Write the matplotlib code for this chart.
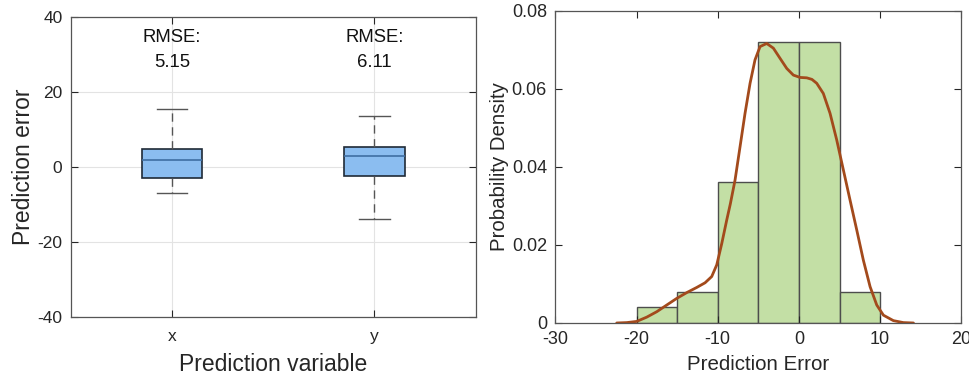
import matplotlib.pyplot as plt
from matplotlib.ticker import FuncFormatter

plt.rcParams["font.family"] = ["Liberation Sans", "DejaVu Sans"]
plt.rcParams["axes.unicode_minus"] = False

# left panel: box plot summary of prediction errors
variables = ["x", "y"]
rmse = [5.15, 6.11]
q1 = [-2.9, -2.4]
medians = [1.8, 2.9]
q3 = [4.9, 5.4]
whisker_low = [-7.0, -13.8]
whisker_high = [15.4, 13.6]

# right panel: histogram of prediction errors + density curve
bin_edges = [-20, -15, -10, -5, 0, 5, 10]
densities = [0.004, 0.008, 0.036, 0.072, 0.072, 0.008]
kde_x = [-22.44, -21.2, -19.98, -18.74, -17.5, -16.28, -15.05, -13.8, -12.59,
         -11.56, -10.74, -10.12, -9.5, -8.89, -8.45, -7.87, -7.25, -6.64, -6.02,
         -5.41, -4.79, -3.97, -3.15, -2.33, -1.5, -0.69, 0.14, 0.96, 1.6, 2.19,
         3.0, 3.83, 4.65, 5.47, 6.29, 7.12, 7.93, 8.76, 9.58, 10.4, 11.63, 12.86, 14.1]
kde_y = [0.0, 0.0001, 0.0004, 0.0015, 0.0029, 0.0046, 0.0063, 0.0078, 0.0091,
         0.0103, 0.0119, 0.0149, 0.0204, 0.0264, 0.0305, 0.0366, 0.0452, 0.0537, 0.0614,
         0.0674, 0.0708, 0.0716, 0.0704, 0.0678, 0.0652, 0.0635, 0.0629, 0.0628, 0.0624, 0.0614,
         0.0588, 0.0537, 0.0469, 0.0392, 0.0315, 0.0238, 0.0161, 0.0093, 0.0046, 0.002,
         0.0006, 0.0001, 0.0]

AXIS_COLOR = "#262626"


def style_axes(ax):
    for spine in ax.spines.values():
        spine.set_color("#555555")
        spine.set_linewidth(0.9)
    ax.tick_params(direction="in", top=True, right=True, colors=AXIS_COLOR,
                   length=5, width=0.8)


fig = plt.figure(figsize=(9.7, 3.79), dpi=100)

ax1 = fig.add_axes([0.0729, 0.1644, 0.4175, 0.79])
stats = []
for i, name in enumerate(variables):
    stats.append({
        "label": name,
        "q1": q1[i],
        "med": medians[i],
        "q3": q3[i],
        "whislo": whisker_low[i],
        "whishi": whisker_high[i],
        "fliers": [],
    })
positions = [1, 2]
ax1.bxp(
    stats,
    positions=positions,
    widths=0.3,
    patch_artist=True,
    showfliers=False,
    boxprops=dict(facecolor="#8BBDF0", edgecolor="#1f2a36", linewidth=1.2),
    medianprops=dict(color="#3f6ea3", linewidth=1.2),
    whiskerprops=dict(color="#555555", linestyle=(0, (6, 4)), linewidth=1.0),
    capprops=dict(color="#555555", linewidth=1.0),
    capwidths=0.15,
)
ax1.set_xlim(0.5, 2.5)
ax1.set_ylim(-40, 40)
ax1.set_yticks([-40, -20, 0, 20, 40])
ax1.set_xticks(positions)
ax1.set_xticklabels(variables)
ax1.grid(True, color="#e3e3e3", linewidth=0.8)
ax1.set_axisbelow(True)
style_axes(ax1)
ax1.tick_params(labelsize=12.5, pad=6)
ax1.tick_params(axis="x", pad=9)
ax1.set_xlabel("Prediction variable", fontsize=16.5, color=AXIS_COLOR, labelpad=6)
ax1.set_ylabel("Prediction error", fontsize=16.5, color=AXIS_COLOR, labelpad=2)
for pos, value in zip(positions, rmse):
    ax1.text(pos, 34.5, "RMSE:", ha="center", va="center", fontsize=13.3, color="#111111")
    ax1.text(pos, 28.0, f"{value:.2f}", ha="center", va="center", fontsize=13.3, color="#111111")

ax2 = fig.add_axes([0.5725, 0.1478, 0.4186, 0.824])
ax2.bar(bin_edges[:-1], densities, width=5, align="edge", color="#C3DFA5",
        edgecolor="#4d4d4d", linewidth=1.0)
ax2.plot(kde_x, kde_y, color="#A34A1C", linewidth=2.0, solid_capstyle="round",
         solid_joinstyle="round")
ax2.set_xlim(-30, 20)
ax2.set_ylim(0, 0.08)
ax2.set_xticks([-30, -20, -10, 0, 10, 20])
ax2.set_yticks([0, 0.02, 0.04, 0.06, 0.08])
ax2.yaxis.set_major_formatter(FuncFormatter(lambda v, p: "0" if v == 0 else f"{v:.2f}"))
style_axes(ax2)
ax2.tick_params(labelsize=13, pad=6)
ax2.set_xlabel("Prediction Error", fontsize=14.8, color=AXIS_COLOR, labelpad=5)
ax2.set_ylabel("Probability Density", fontsize=14.7, color=AXIS_COLOR, labelpad=2)

fig.savefig("out.png", dpi=100)
